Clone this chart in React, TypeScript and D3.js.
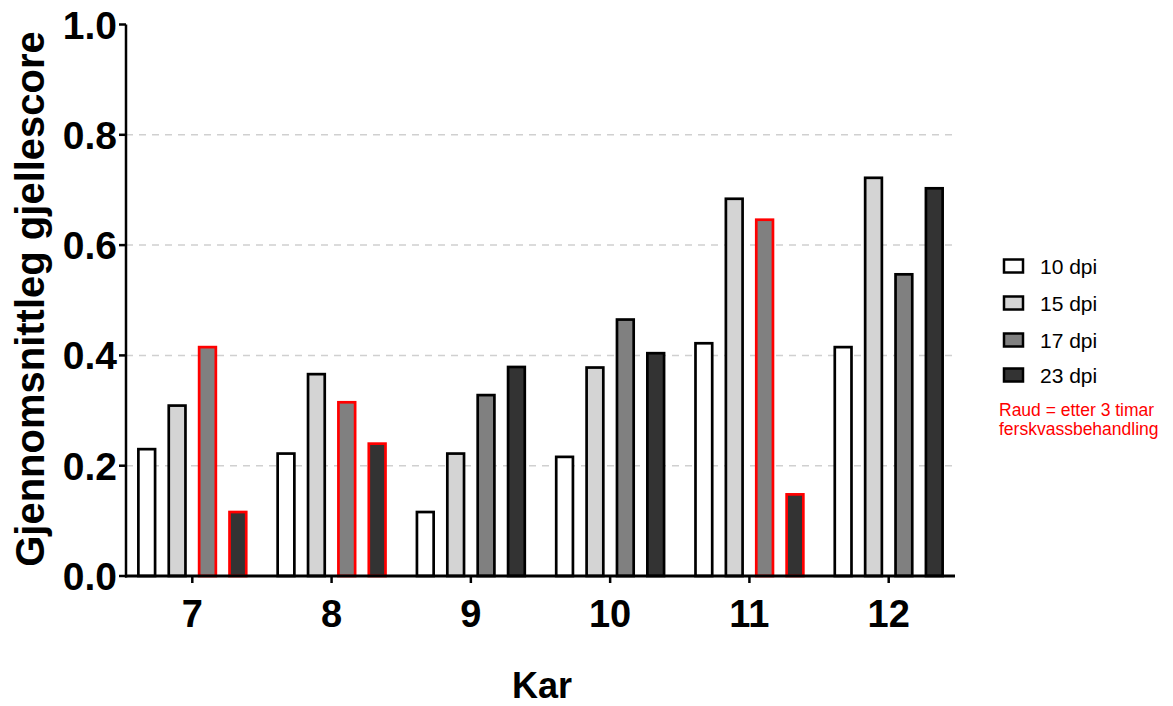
import React from "react";
import * as d3 from "d3";

const categories = ["7", "8", "9", "10", "11", "12"];
const seriesNames = ["10 dpi", "15 dpi", "17 dpi", "23 dpi"];
const dpi10 = [0.23, 0.222, 0.116, 0.216, 0.422, 0.415];
const dpi15 = [0.309, 0.366, 0.222, 0.378, 0.684, 0.722];
const dpi17 = [0.415, 0.315, 0.328, 0.465, 0.646, 0.547];
const dpi23 = [0.116, 0.24, 0.379, 0.404, 0.148, 0.703];
const seriesColors = ["#ffffff", "#d4d4d4", "#808080", "#333333"];
// which bars are red-outlined: [series][category]
const redFlags = [
  [false, false, false, false, false, false],
  [false, false, false, false, false, false],
  [true, true, false, false, true, false],
  [true, true, false, false, true, false],
];
const yTicks = [0, 0.2, 0.4, 0.6, 0.8, 1.0];
const gridTicks = [0.2, 0.4, 0.6, 0.8];

const W = 1173;
const H = 706;
const x0 = 126;
const x1 = 955;
const yBottom = 576;
const yTop = 24.5;
const FONT = "'Liberation Sans', Arial, Helvetica, sans-serif";

export default function App() {
  const series = [dpi10, dpi15, dpi17, dpi23];
  const x = d3.scalePoint<string>().domain(categories).range([x0, x1]).padding(0.476);
  const inner = d3
    .scaleBand<number>()
    .domain([0, 1, 2, 3])
    .range([-60, 60])
    .paddingInner(0.45)
    .paddingOuter(0.2);
  const y = d3.scaleLinear().domain([0, 1]).range([yBottom, yTop]);

  return (
    <div style={{ position: "absolute", left: 0, top: 0 }}>
      <svg width={W} height={H} style={{ display: "block", background: "#fff" }}>
        {/* grid */}
        {gridTicks.map((t) => (
          <line
            key={"g" + t}
            x1={x0}
            x2={x1}
            y1={y(t)}
            y2={y(t)}
            stroke="#d0d0d0"
            strokeWidth={1.5}
            strokeDasharray="7 6"
          />
        ))}
        {/* bars */}
        {series.map((vals, si) =>
          vals.map((v, ci) => {
            const bx = (x(categories[ci]) as number) + (inner(si) as number);
            const bw = inner.bandwidth();
            const red = redFlags[si][ci];
            return (
              <rect
                key={`b${si}-${ci}`}
                x={bx}
                y={y(v)}
                width={bw}
                height={yBottom - y(v)}
                fill={seriesColors[si]}
                stroke={red ? "#ff0000" : "#000"}
                strokeWidth={2.7}
              />
            );
          })
        )}
        {/* y axis */}
        <line x1={x0} x2={x0} y1={yTop} y2={yBottom + 1.5} stroke="#000" strokeWidth={2.5} />
        {yTicks.map((t) => (
          <g key={"yt" + t}>
            <line x1={x0 - 7} x2={x0} y1={y(t)} y2={y(t)} stroke="#000" strokeWidth={2.5} />
            <text
              x={x0 - 9}
              y={y(t)}
              dy="0.36em"
              textAnchor="end"
              fontFamily={FONT}
              fontWeight="bold"
              fontSize={39}
            >
              {t.toFixed(1)}
            </text>
          </g>
        ))}
        {/* x axis */}
        <line x1={x0 - 1} x2={x1} y1={yBottom} y2={yBottom} stroke="#000" strokeWidth={3} />
        {categories.map((c) => (
          <g key={"xt" + c}>
            <line x1={x(c)} x2={x(c)} y1={yBottom} y2={yBottom + 7} stroke="#000" strokeWidth={2.5} />
            <text
              x={x(c)}
              y={627}
              textAnchor="middle"
              fontFamily={FONT}
              fontWeight="bold"
              fontSize={38}
            >
              {c}
            </text>
          </g>
        ))}
        {/* axis titles */}
        <text
          x={542}
          y={698}
          textAnchor="middle"
          fontFamily={FONT}
          fontWeight="bold"
          fontSize={36}
        >
          Kar
        </text>
        <text
          transform={`translate(44, 299) rotate(-90)`}
          textAnchor="middle"
          fontFamily={FONT}
          fontWeight="bold"
          fontSize={40}
        >
          Gjennomsnittleg gjellescore
        </text>
        {/* legend */}
        {seriesNames.map((n, i) => {
          const cy = [266, 303, 340, 375][i];
          return (
            <g key={"lg" + n}>
              <rect
                x={1004}
                y={cy - 6.5}
                width={19}
                height={13}
                fill={seriesColors[i]}
                stroke="#000"
                strokeWidth={2.5}
              />
              <text x={1040} y={cy} dy="0.36em" fontFamily={FONT} fontSize={21}>
                {n}
              </text>
            </g>
          );
        })}
        <text x={999} y={416} fontFamily={FONT} fontSize={17.5} fill="#ff0000">
          Raud = etter 3 timar
        </text>
        <text x={999} y={435} fontFamily={FONT} fontSize={17.5} fill="#ff0000">
          ferskvassbehandling
        </text>
      </svg>
    </div>
  );
}
